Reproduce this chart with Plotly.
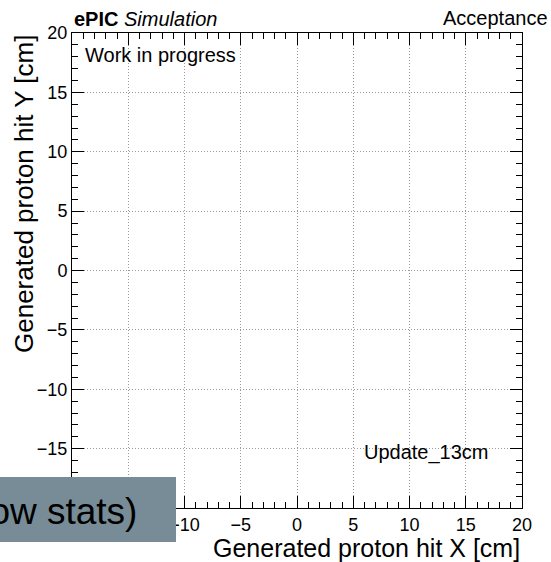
import plotly.graph_objects as go

# Data (the histogram is empty in the reference)
hit_x = []
hit_y = []
x_range = [-20, 20]
y_range = [-20, 20]
tick_values = [-20, -15, -10, -5, 0, 5, 10, 15, 20]
# labels at -20/-15 (x) and -20 (y) lie under the stats box in the reference
x_tick_labels = ["", "", "\u221210", "\u22125", "0", "5", "10", "15", "20"]
y_tick_labels = ["", "\u221215", "\u221210", "\u22125", "0", "5", "10", "15", "20"]
minor_step = 1
x_title = "Generated proton hit X [cm]"
y_title = "Generated proton hit Y [cm]"

FONT = "Liberation Sans, Arial, Helvetica, sans-serif"

fig = go.Figure()
fig.add_trace(go.Scatter(x=hit_x, y=hit_y, mode="markers", showlegend=False))

axis_common = dict(
    showline=True, linecolor="black", linewidth=1, mirror="allticks",
    ticks="inside", ticklen=12, tickwidth=1, tickcolor="black",
    tickmode="array", tickvals=tick_values,
    showgrid=True, gridcolor="#9a9a9a", gridwidth=1, griddash="1px,2px",
    zeroline=False,
    tickfont=dict(family=FONT, size=18, color="black"),
    minor=dict(dtick=minor_step, tick0=0, ticks="inside", ticklen=6, tickcolor="black", showgrid=False),
)

fig.update_xaxes(range=x_range, ticktext=x_tick_labels, **axis_common)
fig.update_yaxes(range=y_range, ticktext=y_tick_labels, **axis_common)

W, H = 551, 562
L, R, T, B = 72, 29, 33, 54
pw, ph = W - L - R, H - T - B

def px(x):
    return (x - L) / pw

def py(y):
    return (H - B - y) / ph

annotations = [
    dict(text="<b>ePIC</b> <i>Simulation</i>", x=px(72), y=py(19), xanchor="left", yanchor="middle",
         font=dict(family=FONT, size=20, color="black")),
    dict(text="Acceptance", x=px(550), y=py(18), xanchor="right", yanchor="middle",
         font=dict(family=FONT, size=20, color="black")),
    dict(text="Work in progress", x=px(83), y=py(55), xanchor="left", yanchor="middle",
         font=dict(family=FONT, size=20, color="black")),
    dict(text="Update_13cm", x=px(426.5), y=py(452), xanchor="center", yanchor="middle",
         font=dict(family=FONT, size=20, color="black")),
    dict(text=x_title, x=1, y=py(532), xanchor="right", yanchor="top",
         font=dict(family=FONT, size=25, color="black")),
    dict(text=y_title, x=px(24), y=1, xanchor="center", yanchor="top", textangle=-90,
         font=dict(family=FONT, size=26, color="black")),
    dict(text="(show stats)", x=px(139), y=py(511), xanchor="right", yanchor="middle",
         font=dict(family=FONT, size=37, color="black")),
]
for a in annotations:
    a.update(xref="paper", yref="paper", showarrow=False)

fig.update_layout(
    width=W, height=H,
    margin=dict(l=L, r=R, t=T, b=B),
    paper_bgcolor="white", plot_bgcolor="white",
    annotations=annotations,
    shapes=[dict(type="rect", xref="paper", yref="paper",
                 x0=px(-5), x1=px(176), y0=py(542), y1=py(477),
                 fillcolor="#778c96", line=dict(width=0), layer="above")],
    showlegend=False,
)

fig.write_html("out.html")
